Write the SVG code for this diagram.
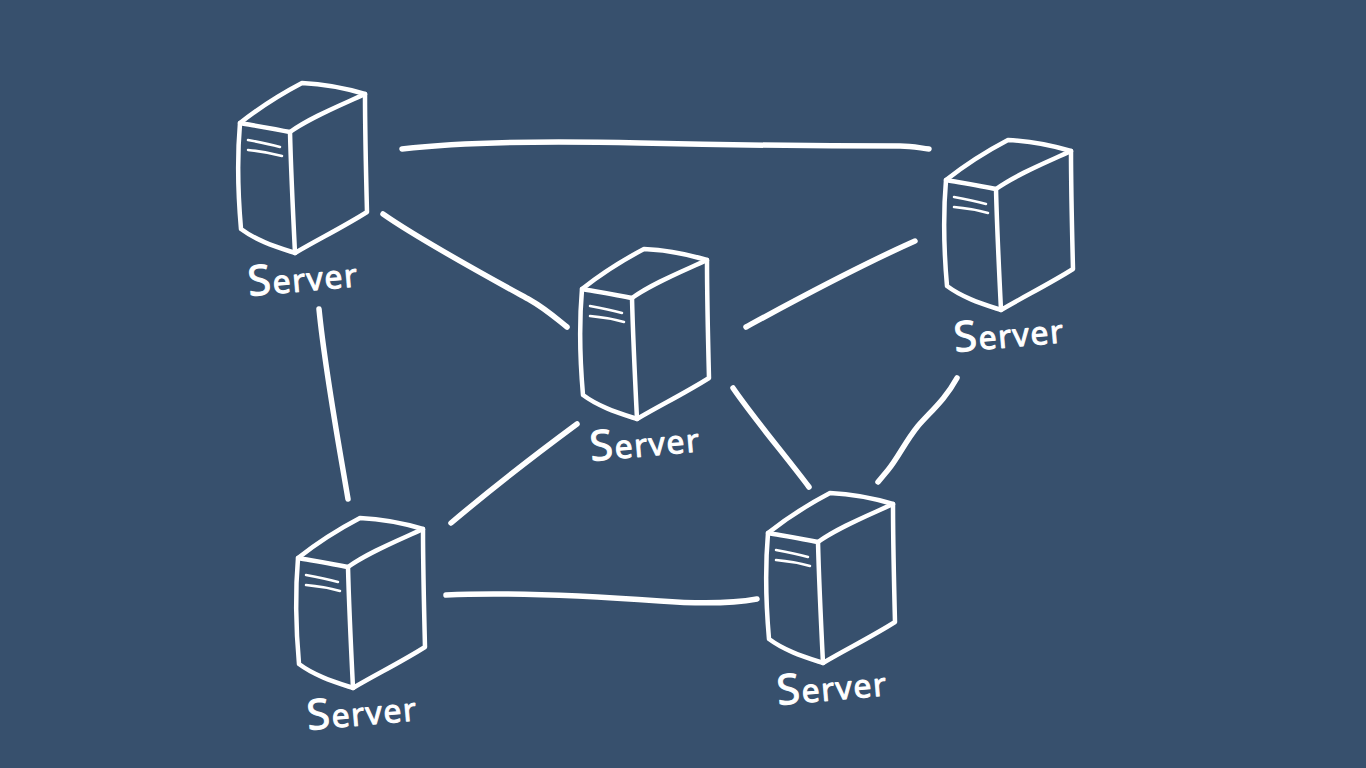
<svg xmlns="http://www.w3.org/2000/svg" width="1366" height="768" viewBox="0 0 1366 768">
<defs>
<style>
.s{fill:none;stroke:#fff;stroke-width:4.5;stroke-linecap:round;stroke-linejoin:round}
.v{fill:none;stroke:#fff;stroke-width:2.5;stroke-linecap:round}
.c{fill:none;stroke:#fff;stroke-width:5.5;stroke-linecap:round;stroke-linejoin:round}
.t{fill:#fff;stroke:#fff;stroke-width:1;stroke-linejoin:round;font-family:"Noto Sans","Liberation Sans",sans-serif;font-size:32px;letter-spacing:1.5px}
.b{font-size:42px}
</style>
<g id="srv">
<path class="s" d="M1 40C20 25 42 11 63 0C85 1 106 5 126 11C126 50 127 90 128 129C106 143 78 157 56 170C38 164 18 158 2 146C-1 112 -2 75 1 40Z"/>
<path class="s" d="M1 40C18 43 36 46 51 49C72 34 100 23 126 11"/>
<path class="s" d="M51 49C52 90 54 130 56 170"/>
<path class="v" d="M9 57C20 59 30 61 41 64M9 67C20 68 32 70 43 73"/>
</g>
</defs>
<rect width="1366" height="768" fill="#37506d"/>
<g id="connectors">
<path class="c" d="M402 149C470 141 560 141 640 143C730 145 830 146 900 146C912 146 920 148 929 149"/>
<path class="c" d="M383 214C420 240 490 278 530 300C546 309 558 320 567 327"/>
<path class="c" d="M746 327C790 303 850 270 915 241"/>
<path class="c" d="M319 309C325 370 338 440 348 499"/>
<path class="c" d="M451 523C490 490 535 455 577 424"/>
<path class="c" d="M733 388C755 420 785 455 809 487"/>
<path class="c" d="M957 378C945 400 930 412 918 426C905 442 898 458 888 470L878 482"/>
<path class="c" d="M446 595C510 592 590 596 660 601C700 604 735 603 757 599"/>
</g>
<g id="server-1"><use href="#srv" x="239" y="83"/><text class="t" transform="translate(249 296) rotate(-5)"><tspan class="b">S</tspan>erver</text></g>
<g id="server-2"><use href="#srv" x="945" y="140"/><text class="t" transform="translate(955 352) rotate(-5)"><tspan class="b">S</tspan>erver</text></g>
<g id="server-3"><use href="#srv" x="581" y="249"/><text class="t" transform="translate(591 461) rotate(-5)"><tspan class="b">S</tspan>erver</text></g>
<g id="server-4"><use href="#srv" x="297" y="518"/><text class="t" transform="translate(308 730) rotate(-5)"><tspan class="b">S</tspan>erver</text></g>
<g id="server-5"><use href="#srv" x="767" y="493"/><text class="t" transform="translate(778 705) rotate(-5)"><tspan class="b">S</tspan>erver</text></g>
</svg>
